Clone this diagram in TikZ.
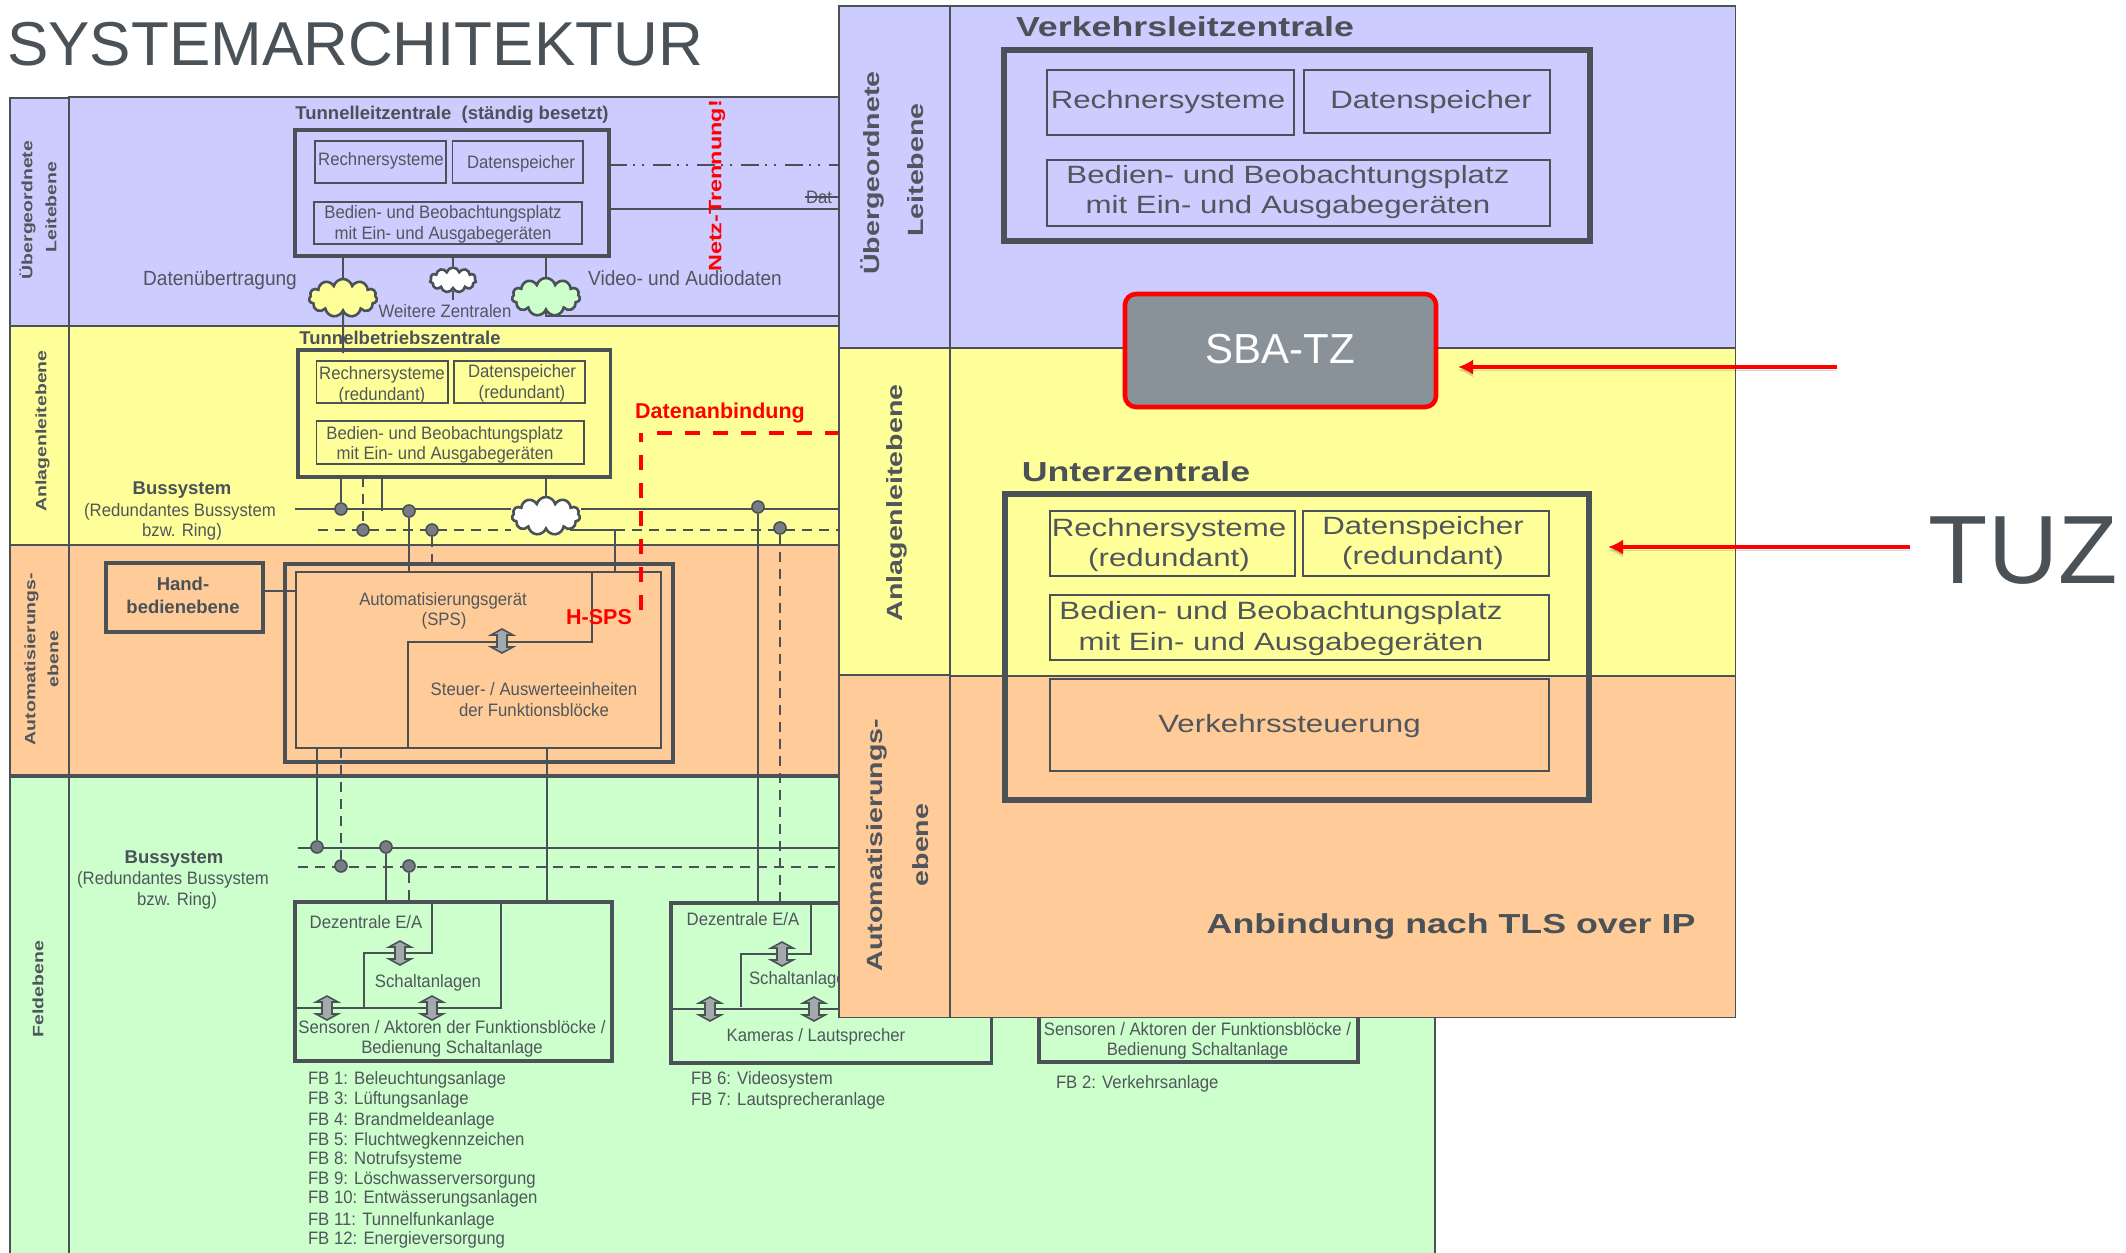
\documentclass[tikz,border=0pt]{standalone}
\usepackage{fontspec}
\usetikzlibrary{shapes.symbols,arrows.meta,calc}
\setmainfont{Liberation Sans}
\newfontfamily\fcn[FakeStretch=.93]{Liberation Sans}
\newfontfamily\fwb[FakeStretch=1.3]{Liberation Sans}
\newfontfamily\fwr[FakeStretch=1.25]{Liberation Sans}
\definecolor{lc}{HTML}{4A5258}
\definecolor{tc}{HTML}{50565B}
\definecolor{vio}{HTML}{CCCCFF}
\definecolor{yel}{HTML}{FFFF99}
\definecolor{ora}{HTML}{FFCC99}
\definecolor{gre}{HTML}{CCFFCC}
\definecolor{rd}{HTML}{FF0000}
\definecolor{sbag}{HTML}{8A9299}
\newcount\tcnt
\newcommand\bx[6][]{\pgfmathsetmacro\bw{#5-#3}\pgfmathsetmacro\bh{#6-#4}%
 \node[rectangle,inner sep=0,outer sep=0,minimum width=\bw pt,minimum height=\bh pt,#1] (#2) at ({(#3+#5)/2},{(#4+#6)/2}) {};}
\newcommand\tx[4][]{\global\advance\tcnt by 1
 \node[inner sep=0,outer sep=0,text=tc,align=center,lab,#1] (l\the\tcnt) at (#2,#3) {\raisebox{0pt}[.72em][0pt]{#4}};}
\newcommand\dbl[2]{\draw[dblarrow,shift={(#1,#2)}] (0,-12)--(11,-6)--(5,-6)--(5,6)--(11,6)--(0,12)--(-11,6)--(-5,6)--(-5,-6)--(-11,-6)--cycle;}
\tikzset{
 lab/.style={font=\fcn\fontsize{18}{18}\selectfont},
 labl/.style={font=\fcn\fontsize{20.5}{20.5}\selectfont},
 labb/.style={font=\bfseries\fontsize{18.5}{18.5}\selectfont,text=lc},
 redb/.style={font=\bfseries\fontsize{21.5}{21.5}\selectfont,text=rd},
 rotl/.style={font=\fwb\bfseries\fontsize{15}{15}\selectfont,rotate=90},
 rotr/.style={font=\fwb\bfseries\fontsize{22}{22}\selectfont,rotate=90},
 big/.style={font=\fwr\fontsize{25}{25}\selectfont},
 bigb/.style={font=\fwb\bfseries\fontsize{27.5}{27.5}\selectfont,text=lc},
 band/.style={draw=lc,line width=1.6pt},
 boxthin/.style={draw=lc,line width=1.8pt},
 med/.style={draw=lc,line width=2.6pt},
 thick4/.style={draw=lc,line width=3.6pt},
 heavy/.style={draw=lc,line width=6pt},
 ln/.style={draw=lc,line width=2pt},
 dsh/.style={draw=lc,line width=2pt,dash pattern=on 10pt off 7pt},
 buss/.style={draw=lc,line width=2.6pt},
 busd/.style={draw=lc,line width=2.6pt,dash pattern=on 10pt off 7pt},
 dot/.style={circle,draw=lc,line width=1.6pt,fill=lc!75!white,inner sep=0,minimum size=12pt},
 cld/.style={cloud,cloud puffs=11,aspect=1.9,draw=lc,line width=2.6pt,inner sep=0},
 dblarrow/.style={draw=lc,line width=1.6pt,fill=lc!50!white},
 redarrow/.style={draw=rd,line width=4pt,-{Latex[length=15pt,width=15pt]},
   preaction={draw=black,opacity=.15,transform canvas={yshift=-3pt}}},
 reddash/.style={draw=rd,line width=3.2pt,dash pattern=on 15pt off 13pt},
 x=1pt,y=-1pt}
\begin{document}
\begin{tikzpicture}
\useasboundingbox (0,0) rectangle (2126,1253);
\tx[font=\fontsize{62}{62}\selectfont,text=lc]{355}{43}{SYSTEMARCHITEKTUR}
% ---- left diagram bands
\bx[fill=vio,band]{bv0}{10}{98}{69}{326}
\bx[fill=vio,band]{bv1}{69}{97}{860}{326}
\bx[fill=yel,band]{by0}{10}{326}{69}{545}
\bx[fill=yel,band]{by1}{69}{326}{860}{545}
\bx[fill=ora,band]{bo0}{10}{545}{69}{776}
\bx[fill=ora,band]{bo1}{69}{545}{860}{776}
\bx[fill=gre,band]{bg0}{10}{776}{69}{1262}
\bx[fill=gre,band]{bg1}{69}{776}{1435}{1262}
\draw[thick4] (bg0.north west) -- (bg1.north east);
\draw[med] (by0.north west) -- (by1.north east);
\draw[med] (bo0.north west) -- (bo1.north east);
\tx[rotl]{27}{210}{Übergeordnete}
\tx[rotl]{51}{207}{Leitebene}
\tx[rotl]{41}{431}{Anlagenleitebene}
\tx[rotl]{30}{659}{Automatisierungs-}
\tx[rotl]{53}{659}{ebene}
\tx[rotl]{38}{989}{Feldebene}
% ---- Tunnelleitzentrale
\tx[labb]{452}{113}{Tunnelleitzentrale\ \ (ständig besetzt)}
\bx[thick4]{tlz}{295}{130}{609}{256}
\bx[boxthin]{tlr}{315}{141}{446}{183}
\bx[boxthin]{tld}{452.5}{141}{583}{183}
\bx[boxthin]{tlb}{314}{202}{582}{244}
\tx{381}{159}{Rechnersysteme}
\tx{521}{162}{Datenspeicher}
\tx{443}{212}{Bedien- und Beobachtungsplatz}
\tx{443}{233}{mit Ein- und Ausgabegeräten}
\tx[labl]{220}{278}{Datenübertragung}
\tx[labl]{685}{278}{Video- und Audiodaten}
\coordinate (dd1) at (860,165);
\coordinate (dd2) at (860,209);
\draw[draw=lc,line width=2.6pt,dash pattern=on 18pt off 6pt on 2pt off 7pt on 2pt off 9pt] (tlz.east |- dd1) -- (dd1);
\draw[ln] (tlz.east |- dd2) -- (dd2);
\tx[anchor=west]{806}{197}{Dat}
\coordinate (st1) at (805,197);
\coordinate (st2) at (860,197);
\draw[draw=lc,line width=2.6pt] (st1) -- (st2);
\node[cld,fill=yel,minimum width=68pt,minimum height=38pt] (cy) at (343,298) {};
\node[cld,fill=white,minimum width=46pt,minimum height=25pt] (cw1) at (453,280) {};
\node[cld,fill=gre,minimum width=68pt,minimum height=38pt] (cg) at (546,297) {};
\tx{445}{311}{Weitere Zentralen}
\draw[ln] (tlz.south -| cy) -- (cy.north);
\draw[ln] (tlz.south -| cw1) -- (cw1.north);
\draw[ln] (cw1.south) -- +(0,9);
\draw[ln] (tlz.south -| cg) -- (cg.north);
\coordinate (gr) at (860,316);
\draw[ln] (cg.south) -- (cg.south |- gr) -- (gr);
\tx[font=\fwb\bfseries\fontsize{18}{18}\selectfont,text=rd,rotate=90]{715}{186}{Netz-Trennung!}
% ---- Tunnelbetriebszentrale
\tx[labb]{400}{338}{Tunnelbetriebszentrale}
\bx[thick4]{tbz}{298}{350}{610.5}{477}
\bx[boxthin]{tbr}{316.5}{361}{448}{403}
\bx[boxthin]{tbd}{454}{361}{585}{403}
\bx[boxthin]{tbb}{316.5}{421}{584}{464}
\draw[ln] (cy.south) -- ($(tbz.north -| cy)+(0,3)$);
\tx{382}{373}{Rechnersysteme}
\tx{382}{394}{(redundant)}
\tx{522}{371}{Datenspeicher}
\tx{522}{392}{(redundant)}
\tx{445}{433}{Bedien- und Beobachtungsplatz}
\tx{445}{453}{mit Ein- und Ausgabegeräten}
\tx[labb]{182}{488}{Bussystem}
\tx{180}{510}{(Redundantes Bussystem}
\tx{182}{530}{bzw. Ring)}
% bus top
\node[cld,fill=white,minimum width=68pt,minimum height=38pt] (cw2) at (546,516) {};
\coordinate (bs0) at (295,509); \coordinate (bs1) at (860,509);
\coordinate (bd0) at (318,530); \coordinate (bd1) at (860,530);
\draw[buss] (bs0) -- (cw2.west |- bs0);
\draw[buss] (cw2.east |- bs0) -- (bs1);
\draw[busd] (bd0) -- (cw2.west |- bd0);
\draw[busd] (cw2.east |- bd0) -- (bd1);
\node[dot] (j1) at (341,509) {};
\node[dot] (j2) at (409,511) {};
\node[dot] (j3) at (758,507) {};
\node[dot] (j4) at (363,530) {};
\node[dot] (j5) at (432,530) {};
\node[dot] (j6) at (780,528) {};
\draw[ln] (tbz.south -| j1) -- (j1.north);
\draw[dsh] (tbz.south -| j4) -- (j4.north);
\coordinate (p382) at (382,511);
\draw[ln] (tbz.south -| p382) -- (p382);
\draw[ln] (tbz.south -| cw2) -- (cw2.north);
% ---- Automatisierung
\bx[thick4]{hand}{106}{563}{263}{632}
\tx[labb]{183}{584}{Hand-}
\tx[labb]{183}{607}{bedienebene}
\bx[med,line width=3.4pt]{ao}{285}{564}{673}{762}
\bx[med]{ai}{296}{572}{661}{748}
\coordinate (hl) at (280,591);
\draw[ln] (hand.east |- hl) -- (ai.west |- hl);
\coordinate (w1) at (570,530); \coordinate (w2) at (615,530);
\draw[ln] (w1) -- (w2) -- (w2 |- ai.north);
\draw[ln] (j2.south) -- (j2 |- ai.north);
\draw[dsh] (j5.south) -- (j5 |- ai.north);
\coordinate (s1) at (592,642); \coordinate (s2) at (408,642);
\draw[ln] (s1 |- ai.north) -- (s1) -- (s2) -- (s2 |- ai.south);
\dbl{502}{641}
\tx{443}{599}{Automatisierungsgerät}
\tx{444}{619}{(SPS)}
\tx{534}{689}{Steuer- / Auswerteeinheiten}
\tx{534}{710}{der Funktionsblöcke}
% ---- Feld
\tx[labb]{174}{857}{Bussystem}
\tx{173}{878}{(Redundantes Bussystem}
\tx{177}{899}{bzw. Ring)}
\coordinate (fs0) at (298,848); \coordinate (fs1) at (860,848);
\coordinate (fd0) at (298,867); \coordinate (fd1) at (860,867);
\draw[buss] (fs0) -- (fs1);
\draw[busd] (fd0) -- (fd1);
\node[dot] (k1) at (317,847) {};
\node[dot] (k2) at (386,847) {};
\node[dot] (k3) at (341,866) {};
\node[dot] (k4) at (409,866) {};
\draw[ln] (ai.south -| k1) -- (k1.north);
\draw[dsh] (ai.south -| k3) -- (k3.north);
% F1
\bx[med,line width=3.4pt]{f1}{295}{902}{612}{1061}
\coordinate (a1) at (432,953); \coordinate (a2) at (364,953); \coordinate (a3) at (364,1007);
\draw[ln] (a1 |- f1.north) -- (a1) -- (a2) -- (a3);
\coordinate (b1) at (501,1008);
\draw[ln] (b1 |- f1.north) -- (b1) -- (f1.west |- b1);
\draw[ln] (k2.south) -- (k2 |- f1.north);
\draw[dsh] (k4.south) -- (k4 |- f1.north);
\coordinate (m1) at (547,748);
\draw[ln] (m1) -- (m1 |- f1.north);
\dbl{400}{953}\dbl{327}{1008}\dbl{432}{1008}
\tx{366}{922}{Dezentrale E/A}
\tx{428}{981}{Schaltanlagen}
\tx{452}{1027}{Sensoren / Aktoren der Funktionsblöcke /}
\tx{452}{1047}{Bedienung Schaltanlage}
\tx[anchor=west]{308}{1078}{FB 1: Beleuchtungsanlage}
\tx[anchor=west]{308}{1098}{FB 3: Lüftungsanlage}
\tx[anchor=west]{308}{1119}{FB 4: Brandmeldeanlage}
\tx[anchor=west]{308}{1139}{FB 5: Fluchtwegkennzeichen}
\tx[anchor=west]{308}{1158}{FB 8: Notrufsysteme}
\tx[anchor=west]{308}{1178}{FB 9: Löschwasserversorgung}
\tx[anchor=west]{308}{1197}{FB 10: Entwässerungsanlagen}
\tx[anchor=west]{308}{1219}{FB 11: Tunnelfunkanlage}
\tx[anchor=west]{308}{1238}{FB 12: Energieversorgung}
% F2
\bx[med,line width=3.4pt]{f2}{671}{903}{991.5}{1063}
\coordinate (c1) at (811,954); \coordinate (c2) at (741,954); \coordinate (c3) at (741,1007);
\draw[ln] (c1 |- f2.north) -- (c1) -- (c2) -- (c3);
\coordinate (d1) at (860,1009);
\draw[ln] (f2.west |- d1) -- (d1);
\draw[ln] (j3.south) -- (j3 |- f2.north);
\draw[dsh] (j6.south) -- (j6 |- f2.north);
\dbl{782}{954}\dbl{710}{1009}\dbl{814}{1009}
\tx{743}{919}{Dezentrale E/A}
\tx[anchor=west]{749}{978}{Schaltanlagen}
\tx{816}{1035}{Kameras / Lautsprecher}
\tx[anchor=west]{691}{1078}{FB 6: Videosystem}
\tx[anchor=west]{691}{1099}{FB 7: Lautsprecheranlage}
% F3
\bx[med,line width=3.4pt]{f3}{1039}{903}{1358}{1062}
\tx{1197.5}{1029}{Sensoren / Aktoren der Funktionsblöcke /}
\tx{1197.5}{1049}{Bedienung Schaltanlage}
\tx[anchor=west]{1056}{1082}{FB 2: Verkehrsanlage}
% red link
\tx[redb]{720}{411}{Datenanbindung}
\tx[redb]{599}{617}{H-SPS}
\coordinate (r0) at (641,610); \coordinate (r1) at (641,433); \coordinate (r3) at (656.6,433); \coordinate (r2) at (860,433);
\draw[reddash] (r0) -- (r1);
\draw[reddash] (r3) -- (r2);
% ---- overlay
\bx[fill=vio,band]{ov0}{839}{6}{950}{348}
\bx[fill=vio,band]{ov1}{950}{6}{1735.5}{348}
\bx[fill=yel,band]{oy0}{839}{348}{950}{675}
\bx[fill=yel,band]{oy1}{950}{348}{1735.5}{676}
\bx[fill=ora,band]{oo0}{839}{675}{950}{1017.5}
\bx[fill=ora,band]{oo1}{950}{676}{1735.5}{1017.5}
\draw[med] (oy0.north west) -- (oy1.north east);
\tx[rotr]{872}{173}{Übergeordnete}
\tx[rotr]{916}{170}{Leitebene}
\tx[rotr]{895}{503}{Anlagenleitebene}
\tx[rotr]{875}{845}{Automatisierungs-}
\tx[rotr]{921}{845}{ebene}
\tx[bigb]{1185}{27}{Verkehrsleitzentrale}
\bx[heavy]{vl}{1004}{50}{1590}{241}
\bx[boxthin]{vr}{1047}{70}{1294}{135}
\bx[boxthin]{vd}{1304}{70}{1550}{133}
\bx[boxthin]{vb}{1047}{160}{1550}{226}
\tx[big]{1168}{99}{Rechnersysteme}
\tx[big]{1431}{99}{Datenspeicher}
\tx[big]{1288}{174}{Bedien- und Beobachtungsplatz}
\tx[big]{1288}{204}{mit Ein- und Ausgabegeräten}
\bx[draw=rd,line width=4.6pt,fill=sbag,rounded corners=11pt]{sba}{1125}{294}{1436}{407}
\tx[font=\fontsize{42}{42}\selectfont,text=white]{1280}{348}{SBA-TZ}
\coordinate (ar1) at (1837,367);
\draw[redarrow] (ar1) -- ($(sba.east |- ar1)+(22,0)$);
\tx[bigb]{1136}{472}{Unterzentrale}
\bx[heavy]{uz}{1005}{494}{1589}{800}
\bx[boxthin]{ur}{1050}{511}{1295}{576}
\bx[boxthin]{ud}{1303}{511}{1549}{576}
\bx[boxthin]{ub}{1050}{595}{1549}{660}
\bx[boxthin]{uv}{1050}{679}{1549}{771}
\tx[big]{1169}{527.5}{Rechnersysteme}
\tx[big]{1169}{557}{(redundant)}
\tx[big]{1423}{525}{Datenspeicher}
\tx[big]{1423}{555}{(redundant)}
\tx[big]{1281}{610}{Bedien- und Beobachtungsplatz}
\tx[big]{1281}{641}{mit Ein- und Ausgabegeräten}
\tx[big]{1289.5}{723}{Verkehrssteuerung}
\tx[bigb]{1451}{924}{Anbindung nach TLS over IP}
\coordinate (ar2) at (1910,547);
\draw[redarrow] (ar2) -- ($(uz.east |- ar2)+(19,0)$);
\tx[font=\fontsize{97}{97}\selectfont,text=lc]{2023}{549}{TUZ}
\end{tikzpicture}
\end{document}
